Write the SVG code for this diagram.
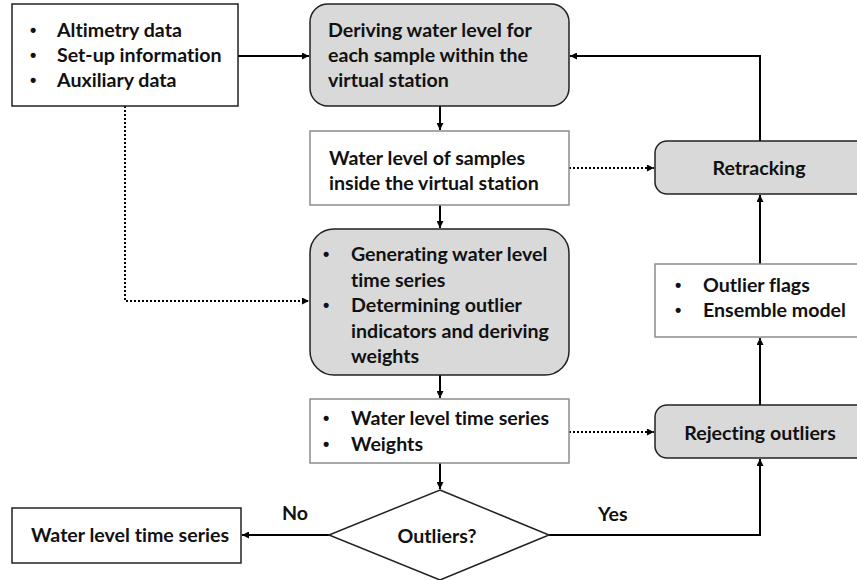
<svg xmlns="http://www.w3.org/2000/svg" width="857" height="580" viewBox="0 0 857 580">
<defs>
<marker id="ah" viewBox="0 0 10 10" refX="10" refY="5" markerWidth="7" markerHeight="7" markerUnits="userSpaceOnUse" orient="auto">
<path d="M0,0 L10,5 L0,10 z" fill="#000"/>
</marker>
<style>
text{font-family:Lato,"Liberation Sans",sans-serif;font-weight:bold;font-size:19.6px;fill:#111;font-variant-ligatures:none}
.b{font-family:"Liberation Sans",sans-serif;font-size:18px}
.dark{fill:#fff;stroke:#222;stroke-width:1.5}
.gray{fill:#fff;stroke:#8c8c8c;stroke-width:1.5}
.proc{fill:#d9d9d9;stroke:#222;stroke-width:1.5}
.c{fill:none;stroke:#000;stroke-width:2}
.d{fill:none;stroke:#000;stroke-width:2;stroke-dasharray:2 2}
.mid{text-anchor:middle}
</style>
</defs>
<rect width="857" height="580" fill="#fff"/>
<g id="connectors">
<path class="c" d="M238,56 H309" marker-end="url(#ah)"/>
<path class="c" d="M440,106 V130" marker-end="url(#ah)"/>
<path class="c" d="M440,205 V228" marker-end="url(#ah)"/>
<path class="c" d="M440,375 V398" marker-end="url(#ah)"/>
<path class="c" d="M440,463 V489" marker-end="url(#ah)"/>
<path class="c" d="M760,141 V56 H570" marker-end="url(#ah)"/>
<path class="c" d="M760,264 V195" marker-end="url(#ah)"/>
<path class="c" d="M760,405 V338" marker-end="url(#ah)"/>
<path class="c" d="M549,535 H760 V459" marker-end="url(#ah)"/>
<path class="c" d="M329,535 H242" marker-end="url(#ah)"/>
<path class="d" d="M125,106 V301 H309" marker-end="url(#ah)"/>
<path class="d" d="M569,168 H654" marker-end="url(#ah)"/>
<path class="d" d="M569,432 H654" marker-end="url(#ah)"/>
</g>
<g id="inputs">
<rect class="dark" x="12" y="4" width="226" height="102"/>
<text class="b" x="30" y="36">•</text><text x="57" y="37">Altimetry data</text>
<text class="b" x="30" y="61">•</text><text x="57" y="62">Set-up information</text>
<text class="b" x="30" y="86">•</text><text x="57" y="87">Auxiliary data</text>
</g>
<g id="deriving">
<rect class="proc" x="310" y="4" width="259" height="102" rx="18"/>
<text x="328" y="37">Deriving water level for</text>
<text x="328" y="62">each sample within the</text>
<text x="328" y="87">virtual station</text>
</g>
<g id="samples">
<rect class="gray" x="310" y="131" width="259" height="74"/>
<text x="329" y="165">Water level of samples</text>
<text x="329" y="190">inside the virtual station</text>
</g>
<g id="retracking">
<rect class="proc" x="655" y="141" width="215" height="53" rx="12"/>
<text class="mid" x="759" y="175">Retracking</text>
</g>
<g id="generating">
<rect class="proc" x="310" y="229" width="259" height="146" rx="24"/>
<text class="b" x="323" y="260">•</text><text x="351" y="261">Generating water level</text>
<text x="351" y="287">time series</text>
<text class="b" x="323" y="311">•</text><text x="351" y="312">Determining outlier</text>
<text x="351" y="338">indicators and deriving</text>
<text x="351" y="363">weights</text>
</g>
<g id="flags">
<rect class="gray" x="655" y="264" width="215" height="73"/>
<text class="b" x="675" y="291">•</text><text x="703" y="292">Outlier flags</text>
<text class="b" x="675" y="316">•</text><text x="703" y="317">Ensemble model</text>
</g>
<g id="wlweights">
<rect class="gray" x="310" y="399" width="259" height="64"/>
<text class="b" x="323" y="424">•</text><text x="351" y="425">Water level time series</text>
<text class="b" x="323" y="450">•</text><text x="351" y="451">Weights</text>
</g>
<g id="rejecting">
<rect class="proc" x="655" y="405" width="215" height="53" rx="12"/>
<text class="mid" x="760" y="440">Rejecting outliers</text>
</g>
<g id="decision">
<path d="M440,490 L549,535 L440,580 L329,535 z" fill="#fff" stroke="#222" stroke-width="1.5"/>
<text class="mid" x="437" y="543">Outliers?</text>
</g>
<g id="output">
<rect class="dark" x="12" y="508" width="229" height="55"/>
<text class="mid" x="130" y="542">Water level time series</text>
</g>
<g id="labels">
<text x="282" y="520">No</text>
<text x="598" y="521">Yes</text>
</g>
</svg>
